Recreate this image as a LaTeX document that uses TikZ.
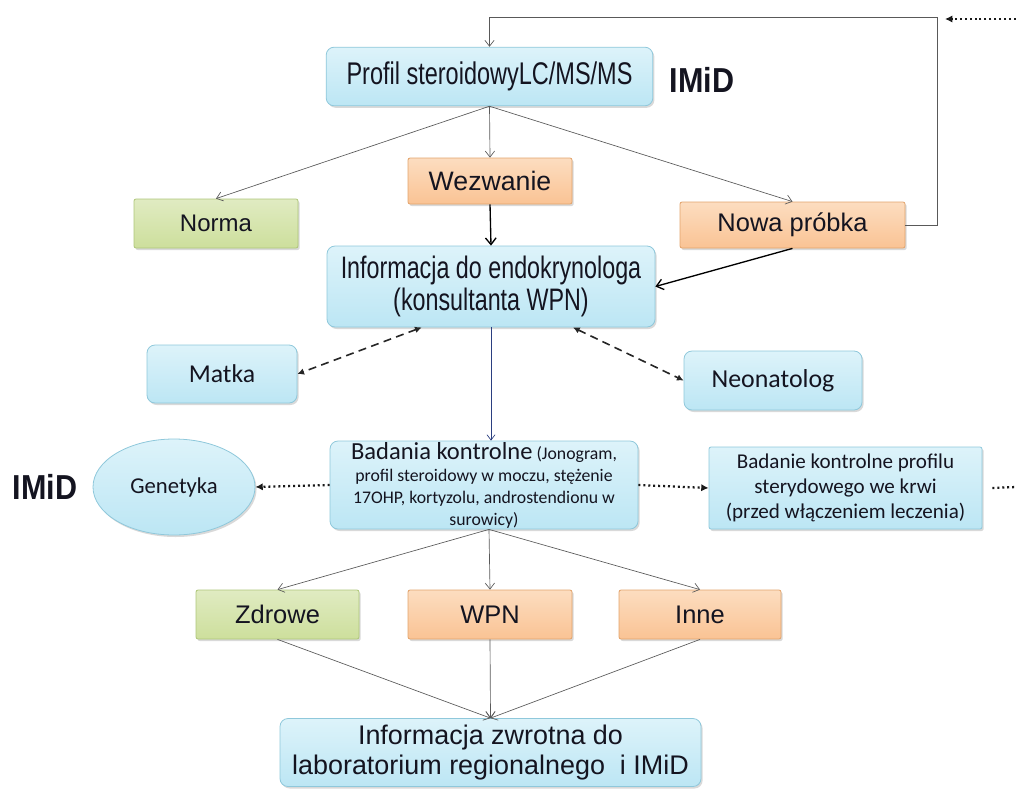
\documentclass[tikz,border=0pt]{standalone}
\usepackage{fontspec}
\setmainfont{Liberation Sans}
\newfontfamily\narrowfont[FakeStretch=0.75]{Liberation Sans}
\newfontfamily\imidfont[FakeStretch=0.88]{Liberation Sans}
\newfontfamily\calfont{Carlito}
\usetikzlibrary{arrows.meta,shadows,shapes.geometric}

\definecolor{boxblue}{HTML}{BCE6F4}
\definecolor{boxbluetop}{HTML}{DDF3FA}
\definecolor{edgeblue}{HTML}{8FC8DB}
\definecolor{boxorange}{HTML}{FAC394}
\definecolor{boxorangetop}{HTML}{FCDDC0}
\definecolor{edgeorange}{HTML}{E2A36B}
\definecolor{boxgreen}{HTML}{CDDF9C}
\definecolor{boxgreentop}{HTML}{E0EBC2}
\definecolor{edgegreen}{HTML}{AEC679}
\definecolor{ink}{HTML}{141420}
\definecolor{navyline}{HTML}{2B3F80}

\tikzset{
  flowbox/.style={draw, line width=0.6pt, inner sep=0pt, align=center, text=ink,
    drop shadow={shadow xshift=1.2pt, shadow yshift=-1.5pt, opacity=0.3}},
  bluebox/.style={flowbox, rounded corners=6pt, draw=edgeblue,
    top color=boxbluetop, bottom color=boxblue},
  blueoval/.style={flowbox, ellipse, draw=edgeblue,
    top color=boxbluetop, bottom color=boxblue},
  orangebox/.style={flowbox, rounded corners=1.5pt, draw=edgeorange,
    top color=boxorangetop, bottom color=boxorange,
    font=\fontsize{19.1pt}{22pt}\selectfont},
  greenbox/.style={flowbox, rounded corners=1.5pt, draw=edgegreen,
    top color=boxgreentop, bottom color=boxgreen,
    font=\fontsize{19.1pt}{22pt}\selectfont},
  imidlabel/.style={inner sep=0pt, text=ink, font=\imidfont\bfseries\fontsize{26pt}{28pt}\selectfont},
  thinarrow/.style={draw=black!65, line width=0.5pt, -{Straight Barb[length=4.5pt,width=7pt]}},
  boldarrow/.style={draw=black, line width=1pt, -{Straight Barb[length=5pt,width=8pt]}},
  navyarrow/.style={draw=navyline, line width=0.5pt, -{Straight Barb[length=4pt,width=6pt]}},
  dasharrow/.style={draw=black!85, line width=1.2pt, dash pattern=on 6pt off 4pt,
    {Latex[length=5pt,width=5pt]}-{Latex[length=5pt,width=5pt]}},
  dotarrow/.style={draw=black!90, line width=1.7pt, dash pattern=on 1.5pt off 2.2pt,
    -{Latex[length=5.5pt,width=5.5pt]}},
  dotline/.style={draw=black!90, line width=1.7pt, dash pattern=on 1.5pt off 2.2pt}
}

\begin{document}
\begin{tikzpicture}[x=0.75pt,y=-0.75pt]
      \useasboundingbox (0,0) rectangle (1016,789);

      % top part
      \node (profil) at (489.5,76.5) [bluebox, minimum width=245pt, minimum height=44pt,
        font=\narrowfont\fontsize{23.5pt}{26pt}\selectfont] {Profil steroidowyLC/MS/MS};
      \node (imidtop) at (702,80) [imidlabel] {IMiD};

      \node (wezwanie) at (490,181) [orangebox, minimum width=123pt, minimum height=34.5pt,
        font=\fontsize{20pt}{22pt}\selectfont] {Wezwanie};
      \node (norma) at (216,223.5) [greenbox, minimum width=123pt, minimum height=36.75pt,
        font=\fontsize{18pt}{20pt}\selectfont] {Norma};
      \node (nowa) at (792.5,225) [orangebox, minimum width=168.75pt, minimum height=34.5pt] {Nowa próbka};

      \node (info) at (491,286.5) [bluebox, minimum width=246pt, minimum height=60.75pt,
        font=\narrowfont\fontsize{23.3pt}{24pt}\selectfont] {Informacja do endokrynologa\\(konsultanta WPN)};

      \node (matka) at (222,374) [bluebox, minimum width=112.5pt, minimum height=43.5pt,
        font=\calfont\fontsize{19.3pt}{22pt}\selectfont] {Matka};
      \node (neo) at (773,380.5) [bluebox, minimum width=133.5pt, minimum height=44.25pt,
        font=\calfont\fontsize{19.4pt}{22pt}\selectfont] {Neonatolog};

      % middle row
      \node (genetyka) at (174,487) [blueoval, minimum width=121.5pt, minimum height=72pt,
        font=\calfont\fontsize{17pt}{20pt}\selectfont] {Genetyka};
      \node (imidleft) at (45,487) [imidlabel] {IMiD};
      \node (badania) at (484,485) [bluebox, minimum width=231pt, minimum height=66pt,
        font=\calfont\fontsize{13.3pt}{16.5pt}\selectfont]
        {{\fontsize{18.4pt}{16.5pt}\selectfont Badania kontrolne} (Jonogram,\\
         profil steroidowy w moczu, stężenie\\
         17OHP, kortyzolu, androstendionu w\\
         surowicy)};
      \node (badanie) at (845.5,488) [bluebox, rounded corners=1.5pt, minimum width=204.75pt,
        minimum height=61.5pt, font=\calfont\fontsize{15.8pt}{18.75pt}\selectfont]
        {Badanie kontrolne profilu\\sterydowego we krwi\\(przed włączeniem leczenia)};

      % bottom part
      \node (zdrowe) at (277.5,614.5) [greenbox, minimum width=122.25pt, minimum height=36.75pt] {Zdrowe};
      \node (wpn) at (490,614.5) [orangebox, minimum width=123pt, minimum height=36.75pt] {WPN};
      \node (inne) at (700,614.5) [orangebox, minimum width=121.5pt, minimum height=36.75pt] {Inne};
      \node (zwrot) at (490.5,752.5) [bluebox, minimum width=315.75pt, minimum height=51pt,
        font=\fontsize{20.2pt}{22.5pt}\selectfont] {Informacja zwrotna do\\laboratorium regionalnego\ \ i IMiD};

      \coordinate (loopR) at (937,17);
      \coordinate (inTop) at (1016,19);
      \coordinate (inTopEnd) at (945,19);
      \coordinate (outRight) at (1016,487);

      \path (profil.south) edge[thinarrow] (norma.north)
                           edge[thinarrow] (wezwanie.north)
                           edge[thinarrow] (nowa.north);
      \draw[thinarrow] (nowa.east) -| (loopR) -| (profil.north);
      \draw[dotarrow] (inTop) -- (inTopEnd);

      \draw[boldarrow] (wezwanie.south) -- (info.north);
      \draw[boldarrow] (nowa.south) -- (info.east);

      \draw[dasharrow] ([xshift=-52pt]info.south) -- (matka.east);
      \draw[dasharrow] ([xshift=61.5pt]info.south) -- (neo.west);
      \draw[navyarrow] (info.south) -- (info.south |- badania.north);

      \draw[dotarrow] (badania.west) -- (genetyka.east);
      \draw[dotarrow] (badania.east) -- (badanie.west);
      \draw[dotline] ([xshift=7.5pt]badanie.east) -- (outRight);

      \path ([xshift=3.75pt]badania.south) edge[thinarrow] (zdrowe.north)
                                           edge[thinarrow] (wpn.north)
                                           edge[thinarrow] (inne.north);
      \path (zdrowe.south) edge[thinarrow] (zwrot.north);
      \path (wpn.south) edge[thinarrow] (zwrot.north);
      \path (inne.south) edge[thinarrow] (zwrot.north);

    \end{tikzpicture}
\end{document}
